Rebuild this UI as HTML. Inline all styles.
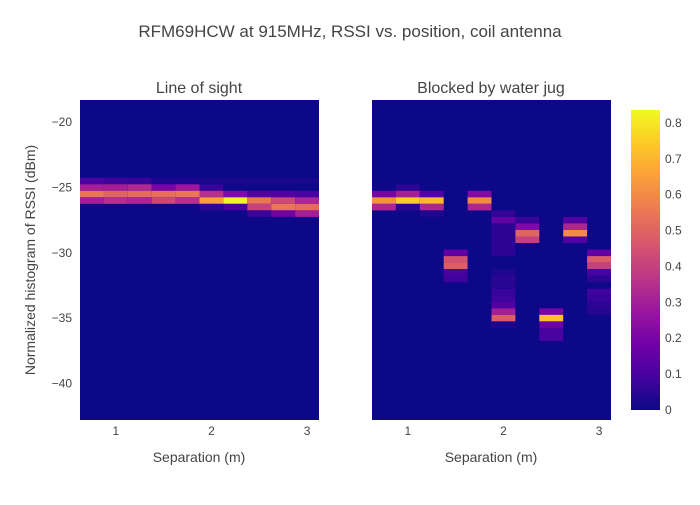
<!DOCTYPE html>
<html><head><meta charset="utf-8"><style>
body{margin:0;background:#fff}
svg text{font-family:"Liberation Sans",sans-serif;fill:#444}
</style></head><body>
<svg id="chart" width="700" height="500" xmlns="http://www.w3.org/2000/svg">
<defs><linearGradient id="cb" x1="0" y1="1" x2="0" y2="0"></linearGradient></defs>
<text x="350" y="37" text-anchor="middle" font-size="17">RFM69HCW at 915MHz, RSSI vs. position, coil antenna</text>
<text x="199" y="93" text-anchor="middle" font-size="16">Line of sight</text>
<text x="491" y="93" text-anchor="middle" font-size="16">Blocked by water jug</text>
<text transform="translate(35,260) rotate(-90)" text-anchor="middle" font-size="14">Normalized histogram of RSSI (dBm)</text>
<text x="199" y="462" text-anchor="middle" font-size="14">Separation (m)</text>
<text x="491" y="462" text-anchor="middle" font-size="14">Separation (m)</text>
<g id="plots"></g>
<rect x="631" y="110" width="29" height="300" fill="url(#cb)"/>
<g id="cbticks"></g>
</svg>
<script>
const xCenters=[0.75,1.0,1.25,1.5,1.75,2.0,2.25,2.5,2.75,3.0];
const yTicks=[-20,-25,-30,-35,-40];
const xTicks=[1,2,3];
const cbTicks=[0,0.1,0.2,0.3,0.4,0.5,0.6,0.7,0.8];
// left: sparse cells
const leftCols=[0,1,2,3,4,5,6,7,8,9, 0,1,2,3,4,5, 0,1,2,3,4,5,6,7,8,9, 0,1,2,3,4,5,6,7,8,9, 5,6,7,8,9, 7,8,9];
const leftBins=[-24.5,-24.5,-24.5,-24.5,-24.5,-24.5,-24.5,-24.5,-24.5,-24.5, -25,-25,-25,-25,-25,-25, -25.5,-25.5,-25.5,-25.5,-25.5,-25.5,-25.5,-25.5,-25.5,-25.5, -26,-26,-26,-26,-26,-26,-26,-26,-26,-26, -26.5,-26.5,-26.5,-26.5,-26.5, -27,-27,-27];
const leftValues=[0.1,0.08,0.07,0.03,0.03,0.02,0.02,0.02,0.02,0.02, 0.3,0.3,0.33,0.2,0.28,0.07, 0.55,0.5,0.52,0.53,0.55,0.35,0.22,0.12,0.12,0.1, 0.3,0.35,0.32,0.42,0.35,0.65,0.83,0.55,0.42,0.32, 0.05,0.1,0.4,0.55,0.52, 0.07,0.18,0.3];
const rightCols=[1, 0,1,2,4, 0,1,2,4, 0,1,2,4, 2,5, 5,6,8, 5,6,8, 5,6,8, 5,6,8, 5, 3,9,5, 3,9, 3,9, 3,9,5, 3,9,5, 5, 5,9, 5,9, 5,9, 5,7,9, 5,7, 5,7, 7, 7];
const rightBins=[-25, -25.5,-25.5,-25.5,-25.5, -26,-26,-26,-26, -26.5,-26.5,-26.5,-26.5, -27,-27, -27.5,-27.5,-27.5, -28,-28,-28, -28.5,-28.5,-28.5, -29,-29,-29, -29.5, -30,-30,-30, -30.5,-30.5, -31,-31, -31.5,-31.5,-31.5, -32,-32,-32, -32.5, -33,-33, -33.5,-33.5, -34,-34, -34.5,-34.5,-34.5, -35,-35, -35.5,-35.5, -36, -36.5];
const rightValues=[0.05, 0.2,0.3,0.12,0.22, 0.62,0.75,0.7,0.6, 0.32,0.05,0.32,0.32, 0.03,0.06, 0.15,0.07,0.12, 0.05,0.22,0.32, 0.05,0.5,0.6, 0.05,0.4,0.12, 0.05, 0.15,0.15,0.05, 0.45,0.48, 0.48,0.4, 0.1,0.1,0.03, 0.08,0.05,0.05, 0.04, 0.07,0.08, 0.08,0.07, 0.12,0.05, 0.3,0.2,0.04, 0.48,0.72, 0.03,0.18, 0.1, 0.1];
const zmax=0.836;
const stops=["#0d0887","#46039f","#7201a8","#9c179e","#bd3786","#d8576b","#ed7953","#fb9f3a","#fdca26","#f0f921"];
function hex(c){return [1,3,5].map(i=>parseInt(c.substr(i,2),16));}
function color(z){let t=Math.max(0,Math.min(1,z/zmax))*(stops.length-1);let i=Math.min(Math.floor(t),stops.length-2);let f=t-i;let a=hex(stops[i]),b=hex(stops[i+1]);return "rgb("+a.map((v,k)=>Math.round(v+(b[k]-v)*f)).join(",")+")";}
const NS="http://www.w3.org/2000/svg";
const Y0=100,Y1=420,yMin=-42.8,yMax=-18.3;
function ys(v){return Y0+(yMax-v)/(yMax-yMin)*(Y1-Y0);}
const g=document.getElementById('plots');
function mk(t,a){const e=document.createElementNS(NS,t);for(const k in a)e.setAttribute(k,a[k]);return e;}
function panel(x0,x1,cols,bins,vals,name){
  const xMin=0.625,xMax=3.125;
  const xs=v=>x0+(v-xMin)/(xMax-xMin)*(x1-x0);
  const bg=mk('rect',{x:x0,y:Y0,width:x1-x0,height:Y1-Y0,fill:stops[0]});
  
  
  g.appendChild(bg);
  for(let i=0;i<cols.length;i++){
    const xc=xCenters[cols[i]];
    const xa=xs(xc-0.125),xb=xs(xc+0.125),ya=ys(bins[i]+0.25),yb=ys(bins[i]-0.25);
    const r=mk('rect',{x:xa,y:ya,width:xb-xa,height:yb-ya,fill:color(vals[i])});
    
    
    g.appendChild(r);
  }
  xTicks.forEach(t=>{const e=mk('text',{x:xs(t),y:435,'text-anchor':'middle','font-size':12});e.textContent=t;
    
    
    g.appendChild(e);});
}
panel(80,319,leftCols,leftBins,leftValues,'left');
panel(372,611,rightCols,rightBins,rightValues,'right');
yTicks.forEach(t=>{const e=mk('text',{x:72,y:ys(t)+4,'text-anchor':'end','font-size':12});e.textContent='−'+Math.abs(t);
  
  
  g.appendChild(e);});
const gr=document.getElementById('cb');
stops.forEach((s,i)=>{gr.appendChild(mk('stop',{offset:i/(stops.length-1),'stop-color':s}));});
const cg=document.getElementById('cbticks');
cbTicks.forEach(t=>{const y=410-t/zmax*300;const e=mk('text',{x:665,y:y+4,'font-size':12});e.textContent=t;
  
  
  cg.appendChild(e);});
</script>
</body></html>
